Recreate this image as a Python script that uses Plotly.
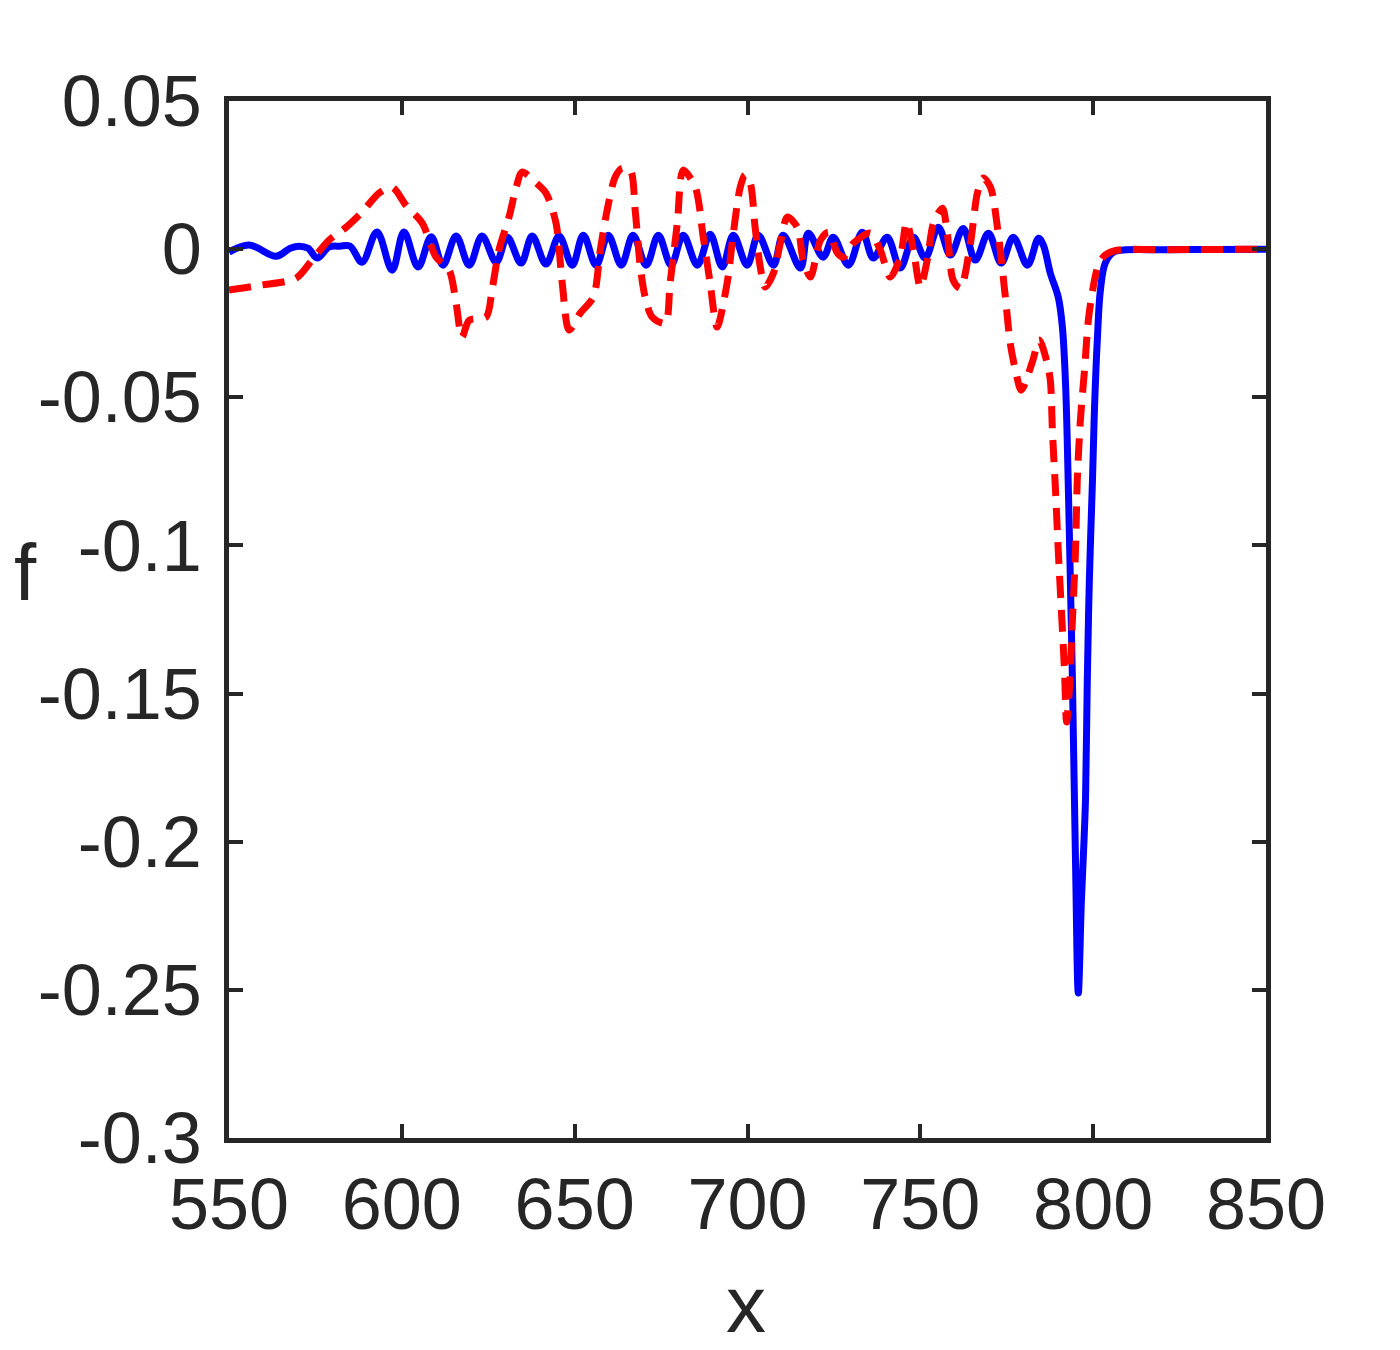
import plotly.graph_objects as go

# Blue solid series
blue_x = [550.0, 555.8, 563.6, 567.7, 570.3, 572.9, 575.5, 578.9, 582.1, 585.0,
          588.5, 592.8, 597.2, 600.6, 604.7, 608.5, 611.9, 615.7, 619.5, 623.2,
          627.3, 630.5, 634.5, 637.7, 641.7, 645.5, 649.3, 652.5, 656.2, 659.7,
          663.5, 666.9, 670.7, 674.2, 677.9, 681.4, 685.5, 689.2, 692.7, 695.9,
          699.9, 703.1, 707.5, 710.3, 715.3, 717.6, 721.9, 724.8, 729.2, 733.2,
          736.4, 740.4, 744.2, 748.0, 751.4, 755.2, 758.7, 762.4, 765.9, 769.7,
          773.4, 776.9, 781.0, 784.2, 785.6, 787.6, 789.9, 791.1, 792.0, 792.5,
          793.4, 794.0, 794.9, 795.7, 796.6, 797.2, 797.8, 798.3, 798.9, 799.8,
          800.4, 801.2, 802.1, 803.5, 805.9, 808.8, 820.0, 835.0, 850.0]
blue_y = [-0.0010, 0.0014, -0.0024, 0.0003, 0.0010, 0.0003, -0.0030, 0.0007, 0.0010, 0.0010,
          -0.0044, 0.0058, -0.0071, 0.0058, -0.0060, 0.0042, -0.0054, 0.0044, -0.0054, 0.0044,
          -0.0044, 0.0040, -0.0047, 0.0044, -0.0050, 0.0044, -0.0054, 0.0047, -0.0054, 0.0047,
          -0.0054, 0.0047, -0.0054, 0.0047, -0.0054, 0.0047, -0.0054, 0.0050, -0.0060, 0.0047,
          -0.0054, 0.0047, -0.0054, 0.0047, -0.0064, 0.0054, -0.0027, 0.0040, -0.0054, 0.0057,
          -0.0030, 0.0040, -0.0064, 0.0040, -0.0030, 0.0074, -0.0020, 0.0070, -0.0037, 0.0054,
          -0.0047, 0.0040, -0.0054, 0.0037, 0.0013, -0.0081, -0.0162, -0.0263, -0.0452, -0.0645,
          -0.1117, -0.1455, -0.2072, -0.2511, -0.2197, -0.2038, -0.1849, -0.1455, -0.1117, -0.0780,
          -0.0533, -0.0307, -0.0138, -0.0047, -0.0010, -0.0003, -0.0002, -0.0001, 0.0000]

# Red dashed series
red_x = [550.0, 559.0, 569.4, 574.0, 578.9, 583.9, 588.5, 593.4, 597.2, 601.2,
         605.9, 609.9, 613.7, 615.7, 617.4, 619.5, 624.4, 626.1, 628.1, 631.0,
         633.1, 634.8, 638.9, 641.7, 644.6, 646.4, 648.4, 651.6, 655.4, 657.4,
         659.4, 661.7, 663.7, 666.1, 667.5, 669.0, 670.4, 672.4, 676.2, 677.6,
         679.7, 681.4, 684.9, 687.2, 689.2, 691.2, 694.1, 695.9, 697.9, 699.3,
         700.8, 702.2, 703.7, 705.1, 707.5, 709.5, 711.5, 714.4, 716.1, 718.2,
         721.1, 723.4, 726.0, 727.7, 730.6, 735.5, 738.4, 741.3, 744.2, 746.0,
         748.0, 750.0, 752.0, 753.8, 756.4, 757.8, 759.5, 761.6, 764.5, 766.5,
         768.2, 770.3, 772.3, 774.6, 776.0, 777.5, 779.2, 782.4, 784.4, 786.5,
         787.6, 788.2, 789.1, 789.9, 790.8, 791.7, 792.3, 793.1, 794.0, 794.9,
         795.4, 796.3, 797.5, 798.6, 800.1, 801.5, 803.5, 807.3, 820.0, 835.0, 850.0]
red_y = [-0.0138, -0.0122, -0.0098, -0.0037, 0.0030, 0.0074, 0.0125, 0.0189, 0.0209, 0.0148,
         0.0088, -0.0027, -0.0071, -0.0182, -0.0297, -0.0240, -0.0229, -0.0138, -0.0003, 0.0108,
         0.0209, 0.0260, 0.0223, 0.0189, 0.0088, -0.0115, -0.0273, -0.0216, -0.0162, -0.0003,
         0.0132, 0.0243, 0.0273, 0.0267, 0.0132, -0.0061, -0.0162, -0.0229, -0.0250, -0.0115,
         0.0088, 0.0267, 0.0209, 0.0040, -0.0115, -0.0263, -0.0115, 0.0054, 0.0209, 0.0250,
         0.0223, 0.0074, -0.0061, -0.0128, -0.0081, 0.0020, 0.0108, 0.0074, -0.0037, -0.0094,
         0.0030, 0.0057, -0.0013, -0.0027, 0.0020, 0.0054, -0.0003, -0.0094, -0.0027, 0.0091,
         -0.0003, -0.0128, -0.0037, 0.0088, 0.0138, 0.0054, -0.0105, -0.0132, 0.0020, 0.0189,
         0.0240, 0.0209, 0.0074, -0.0162, -0.0317, -0.0408, -0.0476, -0.0381, -0.0307, -0.0375,
         -0.0442, -0.0611, -0.0813, -0.1016, -0.1218, -0.1421, -0.1596, -0.1488, -0.1252, -0.1016,
         -0.0780, -0.0577, -0.0408, -0.0240, -0.0122, -0.0054, -0.0020, -0.0003, -0.0002, -0.0001, 0.0000]

x_ticks = [550, 600, 650, 700, 750, 800, 850]
x_ticktext = ["550", "600", "650", "700", "750", "800", "850"]
y_ticks = [0.05, 0, -0.05, -0.1, -0.15, -0.2, -0.25, -0.3]
y_ticktext = ["0.05", "0", "-0.05", "-0.1", "-0.15", "-0.2", "-0.25", "-0.3"]
x_label = "x"
y_label = "f"

AX = "#262626"
FONT = "Liberation Sans, Arial, Helvetica, sans-serif"

fig = go.Figure()
fig.add_trace(go.Scatter(x=blue_x, y=blue_y, mode="lines",
                         line=dict(color="#0000ff", width=7, shape="spline", smoothing=1.0),
                         showlegend=False))
fig.add_trace(go.Scatter(x=red_x, y=red_y, mode="lines",
                         line=dict(color="#ff0000", width=7, dash="22px,12px",
                                   shape="spline", smoothing=0.8),
                         showlegend=False))

axis_common = dict(showgrid=False, zeroline=False, showline=True, linecolor=AX,
                   linewidth=4.5, mirror="ticks", ticks="inside", ticklen=14,
                   tickwidth=4, tickcolor=AX, automargin=False,
                   tickfont=dict(family=FONT, size=72, color=AX))

fig.update_xaxes(range=[550, 850], tickvals=x_ticks, ticktext=x_ticktext,
                 ticklabelstandoff=0, **axis_common)
fig.update_yaxes(range=[-0.3, 0.05], tickvals=y_ticks, ticktext=y_ticktext,
                 ticklabelstandoff=8, **axis_common)

# x label: compact box so it stays inside the page
fig.add_annotation(text=x_label, xref="paper", yref="paper", x=0.4986, y=-0.1605,
                   xanchor="center", yanchor="middle", showarrow=False,
                   height=70, valign="middle",
                   font=dict(family=FONT, size=80, color=AX))
fig.add_annotation(text=y_label, xref="paper", yref="paper", x=-0.1967, y=0.5453,
                   xanchor="center", yanchor="middle", showarrow=False,
                   font=dict(family=FONT, size=80, color=AX))

fig.update_layout(width=1400, height=1350,
                  margin=dict(l=229, r=134, t=101, b=212),
                  paper_bgcolor="white", plot_bgcolor="white",
                  font=dict(family=FONT, color=AX))

fig.write_html("out.html")
